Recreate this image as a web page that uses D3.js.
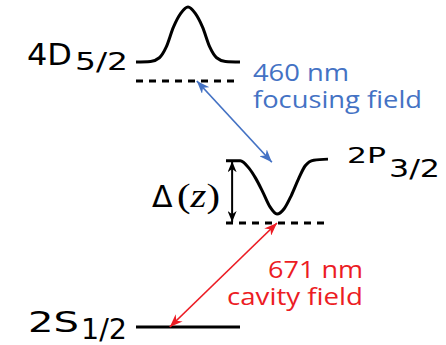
<!DOCTYPE html>
<html>
<head>
<meta charset="utf-8">
<script src="https://cdn.jsdelivr.net/npm/d3@7"></script>
<style>
  body { margin: 0; background: #fff; }
  svg { display: block; }
</style>
</head>
<body>
<div id="chart"></div>
<script>
var width = 446;
var height = 345;

// bare levels (eV above 2S1/2)
var levelNames = ["2S", "2P", "4D"];
var levelJ = ["1/2", "3/2", "5/2"];
var levelEnergy = [0, 1.85, 4.54];

// light shift across the trap (eV)
var zGrid   = [-1, -0.72, -0.55, -0.42, -0.28, -0.14, 0, 0.14, 0.28, 0.42, 0.55, 0.72, 1];
var shift2S = [0, 0, 0, 0, 0, 0, 0, 0, 0, 0, 0, 0, 0];
var shift2P = [1.18, 1.18, 1.04, 0.85, 0.59, 0.31, 0.17, 0.27, 0.52, 0.83, 1.08, 1.19, 1.21];
var shift4D = [0.36, 0.37, 0.44, 0.64, 1.02, 1.28, 1.40, 1.28, 1.02, 0.64, 0.44, 0.37, 0.36];

// lasers: lower level / upper level, where the arrow ends (z, shift)
var laserName = ["671 nm", "460 nm"];
var laserRole = ["cavity field", "focusing field"];
var laserLower = [0, 1];
var laserUpper = [1, 2];
var laserLowerZ = [-0.35, -0.1];
var laserUpperZ = [0, 0.17];
var laserLowerShift = [0, 1.15];
var laserUpperShift = [0, 0];
var laserColor = ["#ec1c24", "#4472c4"];

// scales
var yScale = d3.scaleLinear().domain(levelEnergy).range([327, 223, 81]);
var zLeft = d3.scaleLinear().domain([-1, 1]).range([136, 240]);
var zRight = d3.scaleLinear().domain([-1, 1]).range([226, 328]);
var zScales = [zLeft, zRight, zLeft];
var shifts = [shift2S, shift2P, shift4D];

var svg = d3.select("#chart")
  .append("svg")
  .attr("width", width)
  .attr("height", height);

// arrow heads
var defs = svg.append("defs");
function arrowHead(id, color, len, wid) {
  defs.append("marker")
    .attr("id", id)
    .attr("viewBox", (-len) + " " + (-wid) + " " + (len + 1) + " " + (2 * wid))
    .attr("refX", 0)
    .attr("refY", 0)
    .attr("markerWidth", len + 1)
    .attr("markerHeight", 2 * wid)
    .attr("markerUnits", "userSpaceOnUse")
    .attr("orient", "auto-start-reverse")
    .append("path")
    .attr("d", "M0,0 L" + (-len) + "," + (-wid) + " L" + (-len * 0.7) + ",0 L" + (-len) + "," + wid + " Z")
    .attr("fill", color);
}
arrowHead("headRed", laserColor[0], 13, 5);
arrowHead("headBlue", laserColor[1], 13, 5);
arrowHead("headBlack", "#000", 11, 4.5);

// dashed bare levels
[1, 2].forEach(function (k) {
  var zs = zScales[k];
  svg.append("line")
    .attr("x1", zs(-1))
    .attr("x2", zs(1))
    .attr("y1", yScale(levelEnergy[k]))
    .attr("y2", yScale(levelEnergy[k]))
    .attr("stroke", "#000")
    .attr("stroke-width", 3)
    .attr("stroke-dasharray", "7,6");
});

// shifted levels
levelNames.forEach(function (name, k) {
  var zs = zScales[k];
  var line = d3.line()
    .x(function (d, i) { return zs(zGrid[i]); })
    .y(function (d) { return yScale(levelEnergy[k] + d); })
    .curve(d3.curveMonotoneX);
  svg.append("path")
    .attr("d", line(shifts[k]))
    .attr("fill", "none")
    .attr("stroke", "#000")
    .attr("stroke-width", 3);
});

// laser arrows
laserName.forEach(function (name, i) {
  var lo = laserLower[i], up = laserUpper[i];
  svg.append("line")
    .attr("x1", zScales[lo](laserLowerZ[i]))
    .attr("y1", yScale(levelEnergy[lo] + laserLowerShift[i]))
    .attr("x2", zScales[up](laserUpperZ[i]))
    .attr("y2", yScale(levelEnergy[up] + laserUpperShift[i]))
    .attr("stroke", laserColor[i])
    .attr("stroke-width", 1.7)
    .attr("marker-start", i == 0 ? "url(#headRed)" : "url(#headBlue)")
    .attr("marker-end", i == 0 ? "url(#headRed)" : "url(#headBlue)");
});

// Delta(z) arrow
svg.append("line")
  .attr("x1", zRight(-0.88))
  .attr("x2", zRight(-0.88))
  .attr("y1", yScale(levelEnergy[1]) - 1)
  .attr("y2", yScale(levelEnergy[1] + shift2P[0]) + 0.5)
  .attr("stroke", "#000")
  .attr("stroke-width", 2)
  .attr("marker-start", "url(#headBlack)")
  .attr("marker-end", "url(#headBlack)");

// level labels
function label(txt, x, y, size, len) {
  svg.append("text")
    .attr("x", x)
    .attr("y", y)
    .attr("font-family", "DejaVu Sans")
    .attr("font-size", size)
    .attr("textLength", len)
    .attr("lengthAdjust", "spacingAndGlyphs")
    .attr("fill", "#000")
    .text(txt);
}
label(levelNames[2], 27, 65, 30, 45);
label(levelJ[2], 75, 70, 25, 53);
label(levelNames[1], 347, 163, 22, 39);
label(levelJ[1], 389, 177, 24, 51);
label(levelNames[0], 28, 331.5, 29, 51);
label(levelJ[0], 81, 339, 28, 46);

// Delta(z)
svg.append("text")
  .attr("x", 152)
  .attr("y", 207)
  .attr("font-family", "DejaVu Sans")
  .attr("font-size", 30)
  .text("Δ");
svg.append("text")
  .attr("x", 177)
  .attr("y", 207)
  .attr("font-family", "Liberation Serif")
  .attr("font-size", 33)
  .attr("textLength", 43)
  .attr("lengthAdjust", "spacingAndGlyphs")
  .html('(<tspan font-style="italic">z</tspan>)');

// laser labels, one text each with two lines
var laserText = svg.append("g")
  .attr("font-family", "Open Sans")
  .attr("font-size", 24);

var blue = laserText.append("text")
  .attr("fill", laserColor[1]);
blue.append("tspan")
  .attr("x", 253).attr("y", 81)
  .attr("textLength", 96).attr("lengthAdjust", "spacingAndGlyphs")
  .text(laserName[1]);
blue.append("tspan")
  .attr("x", 253).attr("y", 108)
  .attr("textLength", 169).attr("lengthAdjust", "spacingAndGlyphs")
  .text(laserRole[1]);

var red = laserText.append("text")
  .attr("fill", laserColor[0]);
red.append("tspan")
  .attr("x", 268).attr("y", 278)
  .attr("textLength", 95).attr("lengthAdjust", "spacingAndGlyphs")
  .text(laserName[0]);
red.append("tspan")
  .attr("x", 227).attr("y", 305)
  .attr("textLength", 136).attr("lengthAdjust", "spacingAndGlyphs")
  .text(laserRole[0]);
</script>
</body>
</html>
